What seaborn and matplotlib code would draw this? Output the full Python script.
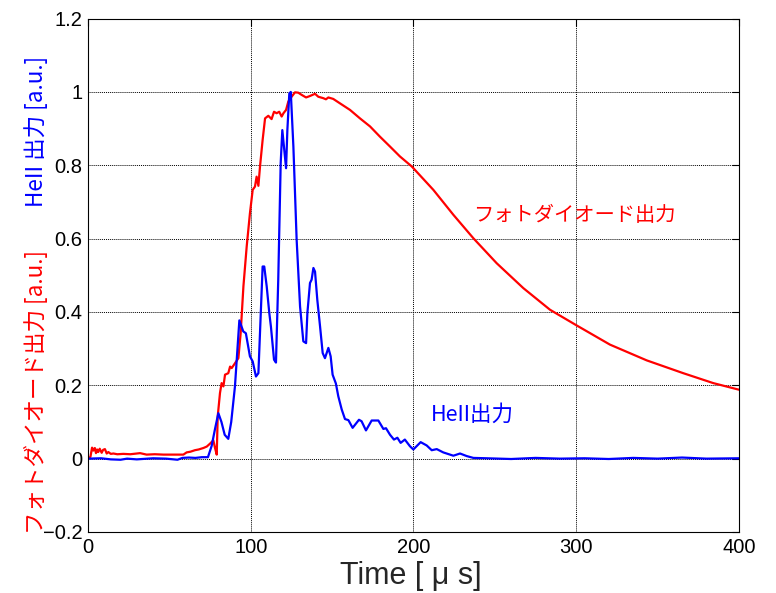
import numpy as np
import pandas as pd
import matplotlib
matplotlib.use("Agg")
import matplotlib.pyplot as plt
import seaborn as sns

# Photodiode output (red)
pd_t = [0, 1.5, 2.5, 3.3, 4.2, 4.9, 5.6, 6.3, 7.2, 8.4, 9.3, 10.4, 11.5, 12.5, 14, 15.6, 18, 21.7, 26, 32, 36, 41, 46.3, 52, 58.6,
        60.6, 63, 65.7, 68, 70.9, 73, 75, 77, 78, 79.1, 79.7, 81.1, 82.1, 83.2, 84.2, 86.2, 87.3, 88.3, 90.3, 92.4,
        93.8, 95.5, 97.5, 99.5, 101.2, 102.6, 103.6, 104.7, 105.7, 107.3, 108.8, 110.8, 112.8, 114.3, 115.9, 117.5,
        119.0, 120.1, 121.7, 123.1, 125.1, 127.2, 129.2, 131.3, 134.0, 136.4, 139.5, 141.5, 144.6, 146.2, 147.7,
        150.7, 154.8, 161.0, 167.1, 173.3, 179.4, 185.6, 191.7, 198.9, 212.2, 224.5, 236.8, 251.1, 267.5, 283.9,
        299.6, 320.7, 343.3, 365.8, 384.2, 400.0]
pd_v = [0.0, 0.005, 0.03, 0.022, 0.029, 0.015, 0.025, 0.018, 0.027, 0.016, 0.024, 0.026, 0.014, 0.018, 0.013, 0.014, 0.012, 0.013, 0.012, 0.015, 0.011, 0.012, 0.011, 0.011, 0.011,
        0.017, 0.019, 0.023, 0.025, 0.029, 0.033, 0.041, 0.05, 0.03, 0.011, 0.115, 0.179, 0.206, 0.197, 0.229, 0.233, 0.251, 0.247, 0.26, 0.274,
        0.342, 0.47, 0.578, 0.669, 0.733, 0.742, 0.769, 0.744, 0.797, 0.869, 0.928, 0.935, 0.926, 0.946, 0.942, 0.946,
        0.933, 0.942, 0.951, 0.974, 0.987, 0.999, 0.998, 0.992, 0.985, 0.989, 0.995, 0.987, 0.983, 0.98, 0.985,
        0.981, 0.969, 0.951, 0.928, 0.906, 0.878, 0.851, 0.824, 0.797, 0.733, 0.665, 0.601, 0.533, 0.465, 0.406,
        0.365, 0.311, 0.268, 0.233, 0.206, 0.188]

# HeII output (blue)
he_t = [0, 8, 14, 20, 24, 30, 40, 48, 55, 58, 62, 66, 70, 73.7, 76, 78, 80.1, 82, 84, 86.2, 88, 90.3, 93.0, 95.4, 97.0,
        99.5, 101.2, 103.2, 104.7, 107.3, 108.3, 109.8, 111.4, 112.4, 114.3, 115.5, 116.9, 118.4, 119.4, 120.4,
        121.7, 122.5, 123.7, 124.6, 126.2, 128.2, 130.3, 132.3, 134.0, 134.8, 136.4, 137.4, 138.5, 139.5, 140.9,
        142.6, 144.2, 145.6, 147.7, 149.1, 150.3, 152.3, 153.8, 155.9, 157.9, 160.0, 162.6, 166.5, 168.1, 170.8,
        174.3, 178.4, 181.5, 183.1, 185.6, 188.0, 190.1, 192.1, 194.7, 197.8, 199.9, 204.4, 208.1, 211.2, 214.3,
        218.3, 224.5, 228.6, 232.7, 236.8, 245, 260, 275, 290, 305, 320, 335, 350, 365, 380, 400]
he_v = [0.0, 0.001, -0.002, -0.003, 0.0, -0.002, 0.001, 0.0, -0.003, 0.002, 0.003, 0.002, 0.004, 0.004, 0.035, 0.08, 0.124, 0.1, 0.065, 0.054, 0.1, 0.197, 0.377, 0.347, 0.342,
        0.279, 0.265, 0.224, 0.233, 0.524, 0.524, 0.47, 0.397, 0.36, 0.27, 0.262, 0.488, 0.806, 0.896, 0.851,
        0.792, 0.896, 0.996, 1.0, 0.851, 0.597, 0.415, 0.32, 0.315, 0.397, 0.479, 0.488, 0.52, 0.51, 0.433,
        0.36, 0.288, 0.274, 0.302, 0.279, 0.229, 0.205, 0.17, 0.134, 0.108, 0.105, 0.084, 0.106, 0.102, 0.077,
        0.104, 0.104, 0.081, 0.083, 0.065, 0.052, 0.057, 0.043, 0.052, 0.034, 0.025, 0.045, 0.036, 0.023, 0.026,
        0.017, 0.008, 0.014, 0.007, 0.002, 0.001, -0.001, 0.002, 0.0, 0.001, -0.001, 0.002, 0.0, 0.003, 0.0, 0.001]

x_ticks = [0, 100, 200, 300, 400]
y_ticks = [-0.2, 0, 0.2, 0.4, 0.6, 0.8, 1, 1.2]
y_tick_labels = ["\u22120.2", "0", "0.2", "0.4", "0.6", "0.8", "1", "1.2"]

sns.set_style("white")
plt.rcParams['font.family'] = ['Liberation Sans', 'Noto Sans CJK JP', 'DejaVu Sans']
plt.rcParams['axes.unicode_minus'] = True

df_pd = pd.DataFrame({"t": pd_t, "v": pd_v})
df_he = pd.DataFrame({"t": he_t, "v": he_v})

fig = plt.figure(figsize=(7.76, 5.93), dpi=100)
ax = fig.add_axes([0.1134, 0.1029, 0.9523 - 0.1134, 0.9686 - 0.1029])

sns.lineplot(data=df_pd, x="t", y="v", ax=ax, color="#ff0000", linewidth=1.6, estimator=None, sort=False)
sns.lineplot(data=df_he, x="t", y="v", ax=ax, color="#0000ff", linewidth=1.6, estimator=None, sort=False)

ax.set_xlim(0, 400)
ax.set_ylim(-0.2, 1.2)
ax.set_xticks(x_ticks)
ax.set_yticks(y_ticks)
ax.set_yticklabels(y_tick_labels)
ax.grid(True, color="black", linestyle=(0, (1, 1)), linewidth=0.7)
ax.tick_params(direction="in", length=5, width=0.8, top=True, right=True, labelsize=14.5, colors="black", pad=4)
for s in ax.spines.values():
    s.set_color("black")
    s.set_linewidth(0.8)
ax.set_xlabel("")
ax.set_ylabel("")

fig.text(411 / 776, 1 - 576 / 593, "Time [ \u03bc s]", fontsize=22, ha="center", va="center",
         family=['Liberation Sans', 'Noto Sans CJK JP'])

ax.text(298.6, 0.662, "フォトダイオード出力", color="#ff0000", fontsize=14.6, ha="center", va="center",
        family=['Noto Sans CJK JP'])
ax.text(236, 0.12, "HeII出力", color="#0000ff", fontsize=15.5, ha="center", va="center",
        family=['Noto Sans CJK JP'])

fig.text(36 / 776, 1 - 392 / 593, "フォトダイオード出力 [a.u.]", color="#ff0000", fontsize=16.2, rotation=90,
         ha="center", va="center", family=['Noto Sans CJK JP'])
fig.text(36 / 776, 1 - 131 / 593, "HeII 出力 [a.u.]", color="#0000ff", fontsize=16.2, rotation=90,
         ha="center", va="center", family=['Noto Sans CJK JP'])

fig.savefig("out.png", dpi=100, facecolor="white")
